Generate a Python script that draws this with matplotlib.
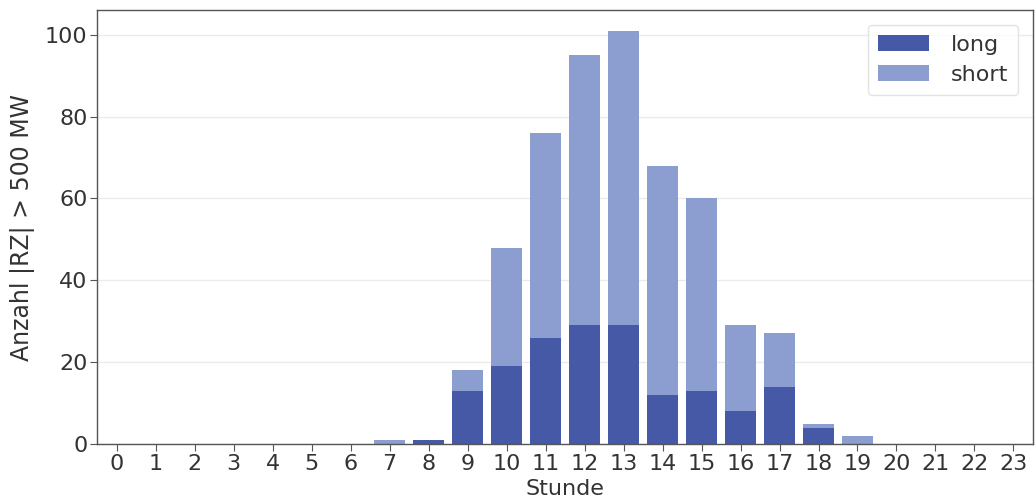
import numpy as np
import matplotlib
matplotlib.use("Agg")
from matplotlib import pyplot as plt

# stunden und anzahl je richtung
stunden = list(range(24))
long_werte = [0, 0, 0, 0, 0, 0, 0, 0, 1, 13, 19, 26, 29, 29, 12, 13, 8, 14, 4, 0, 0, 0, 0, 0]
short_werte = [0, 0, 0, 0, 0, 0, 0, 1, 0, 5, 29, 50, 66, 72, 56, 47, 21, 13, 1, 2, 0, 0, 0, 0]

farbe_long = "#4659a6"
farbe_short = "#8b9ecf"
textfarbe = "#333333"

fig, ax = plt.subplots(figsize=(10.35, 5.04), dpi=100)
fig.subplots_adjust(left=0.094, right=0.998, top=0.98, bottom=0.119)

ax.bar(stunden, long_werte, width=0.8, color=farbe_long, label="long", zorder=2)
ax.bar(stunden, short_werte, width=0.8, bottom=long_werte, color=farbe_short,
       label="short", zorder=2)

ax.set_xlim(-0.5, 23.5)
ax.set_ylim(0, 106)
ax.set_xticks(stunden)
ax.set_yticks([0, 20, 40, 60, 80, 100])
ax.yaxis.grid(True, color="#ebebeb", linewidth=1, zorder=0)

for s in ax.spines.values():
    s.set_color("#555555")
    s.set_linewidth(1)

ax.tick_params(axis="both", labelsize=16, colors=textfarbe, length=5, pad=2)
ax.tick_params(axis="both", color="#555555")
ax.set_xlabel("Stunde", fontsize=16, color=textfarbe, labelpad=4)
ax.set_ylabel("Anzahl |RZ| > 500 MW", fontsize=17, color=textfarbe, labelpad=7)

leg = ax.legend(loc="upper right", fontsize=16, frameon=True, borderpad=0.45,
                handlelength=2.3, handletextpad=1.0, labelspacing=0.45,
                borderaxespad=0.65)
leg.get_frame().set_edgecolor("#dddddd")
for t in leg.get_texts():
    t.set_color(textfarbe)

fig.savefig("out.png", dpi=100)
